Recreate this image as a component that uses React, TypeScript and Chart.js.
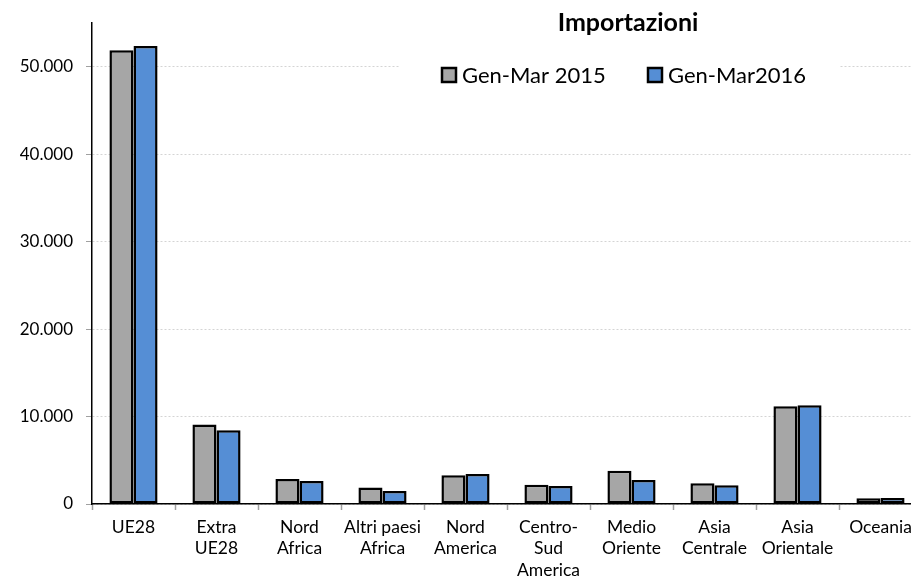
import React, { useEffect, useRef } from "react";
import { Chart, registerables } from "chart.js";

Chart.register(...registerables);

// Regions of origin (multi-line labels)
const categories: string[][] = [
  ["UE28"],
  ["Extra", "UE28"],
  ["Nord", "Africa"],
  ["Altri paesi", "Africa"],
  ["Nord", "America"],
  ["Centro-", "Sud", "America"],
  ["Medio", "Oriente"],
  ["Asia", "Centrale"],
  ["Asia", "Orientale"],
  ["Oceania"],
];

const seriesNames = ["Gen-Mar 2015", "Gen-Mar2016"];
const values2015 = [51900, 9100, 2850, 1900, 3280, 2200, 3800, 2360, 11190, 650];
const values2016 = [52400, 8450, 2630, 1480, 3430, 2060, 2740, 2140, 11300, 680];

const yTicks = [0, 10000, 20000, 30000, 40000, 50000];
const chartTitle = "Importazioni";

const FONT = "Lato, 'Open Sans', sans-serif";
const GRAY = "#a6a6a6";
const BLUE = "#558ed5";

const fmt = (v: number) => String(Math.round(v)).replace(/\B(?=(\d{3})+(?!\d))/g, ".");

// Title and in-plot legend, drawn on top of the bars
const overlayPlugin = {
  id: "overlay",
  afterDraw(chart: any) {
    const ctx = chart.ctx as CanvasRenderingContext2D;
    ctx.save();
    // legend background hides the gridline behind it
    ctx.fillStyle = "#ffffff";
    ctx.fillRect(400, 54, 439, 42);

    ctx.fillStyle = "#000";
    ctx.font = `bold 25px ${FONT}`;
    ctx.textAlign = "center";
    ctx.textBaseline = "middle";
    ctx.fillText(chartTitle, 628, 23);

    ctx.font = `22px ${FONT}`;
    ctx.textAlign = "left";
    const colors = [GRAY, BLUE];
    const starts = [442, 648];
    seriesNames.forEach((name, i) => {
      const x = starts[i];
      ctx.fillStyle = colors[i];
      ctx.fillRect(x, 68, 14, 14);
      ctx.lineWidth = 2.5;
      ctx.strokeStyle = "#000";
      ctx.strokeRect(x, 68, 14, 14);
      ctx.fillStyle = "#000";
      ctx.fillText(name, x + 20, 76);
    });
    ctx.restore();
  },
};

export default function App() {
  const ref = useRef<HTMLCanvasElement | null>(null);

  useEffect(() => {
    if (!ref.current) return;
    const chart = new Chart(ref.current, {
      type: "bar",
      data: {
        labels: categories as any,
        datasets: [
          {
            label: seriesNames[0],
            data: values2015,
            backgroundColor: GRAY,
            borderColor: "#000",
            borderWidth: 2.5,
            borderSkipped: false,
          },
          {
            label: seriesNames[1],
            data: values2016,
            backgroundColor: BLUE,
            borderColor: "#000",
            borderWidth: 2.5,
            borderSkipped: false,
          },
        ],
      },
      options: {
        responsive: false,
        animation: false,
        devicePixelRatio: 1,
        layout: { padding: { top: 23, right: 13, left: 0, bottom: 0 } },
        datasets: { bar: { categoryPercentage: 0.58, barPercentage: 1 } },
        plugins: {
          legend: { display: false },
          title: { display: false },
          tooltip: { enabled: false },
        },
        scales: {
          x: {
            grid: {
              offset: true,
              drawOnChartArea: false,
              tickLength: 6,
              tickColor: "#a0a0a0",
              tickWidth: 1.5,
            },
            border: { color: "#000", width: 1.5 },
            ticks: {
              color: "#000",
              font: { family: FONT, size: 17.5, lineHeight: 1.25 },
              padding: 6,
              maxRotation: 0,
              autoSkip: false,
            },
            afterFit: (s: any) => {
              s.height = 75;
            },
          },
          y: {
            min: 0,
            max: 55000,
            ticks: {
              stepSize: 10000,
              color: "#000",
              padding: 13,
              font: { family: FONT, size: 17 },
              callback: (v: any) => fmt(Number(v)),
            },
            afterBuildTicks: (s: any) => {
              s.ticks = yTicks.map((value) => ({ value }));
            },
            grid: {
              color: "#d4d4d4",
              tickColor: "#a0a0a0",
              tickLength: 6,
              lineWidth: 1,
            },
            border: { color: "#000", width: 1.5, dash: [2, 2] },
            afterFit: (s: any) => {
              s.width = 92;
            },
          },
        },
      },
      plugins: [overlayPlugin],
    });
    return () => chart.destroy();
  }, []);

  return (
    <div
      style={{
        position: "fixed",
        left: 0,
        top: 0,
        width: 911,
        height: 579,
        overflow: "hidden",
        background: "#fff",
      }}
    >
      <canvas ref={ref} width={935} height={579} style={{ width: 935, height: 579, display: "block" }} />
    </div>
  );
}
